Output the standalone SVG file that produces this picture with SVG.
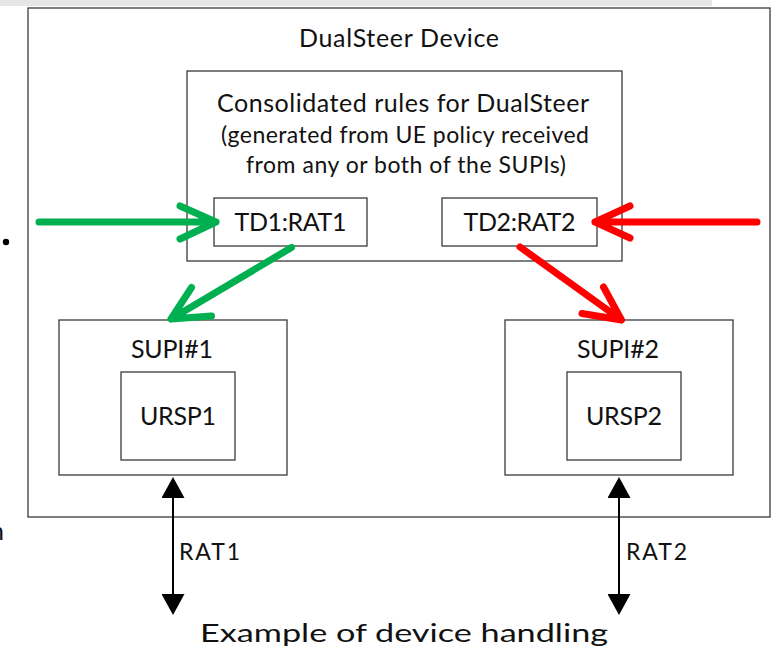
<svg xmlns="http://www.w3.org/2000/svg" width="780" height="650" viewBox="0 0 780 650">
<defs>
<style>
.box{fill:#fff;stroke:#3a3a3a;stroke-width:1.3}
.t{font-family:Lato,"Open Sans","Liberation Sans",sans-serif;fill:#111;font-size:25px}
.c{text-anchor:middle}
.sub{font-size:23px}
.g{fill:none;stroke:#00b050;stroke-width:7;stroke-linecap:round;stroke-linejoin:round}
.r{fill:none;stroke:#ff0000;stroke-width:7;stroke-linecap:round;stroke-linejoin:round}
.bi{stroke:#000;stroke-width:2;fill:none}
</style>
<marker id="tri" viewBox="0 0 21 23" refX="0" refY="11.5" markerWidth="21" markerHeight="23" markerUnits="userSpaceOnUse" orient="auto-start-reverse">
<path d="M0,0 L21,11.5 L0,23 Z" fill="#000"/>
</marker>
</defs>
<rect x="0" y="0" width="712" height="6" fill="#e6e6e6"/>
<circle cx="6" cy="242" r="3.2" fill="#000"/>
<text class="t" x="-10" y="540">n</text>

<g id="device">
<rect class="box" x="28" y="8" width="742" height="509"/>
<text class="t c" x="399" y="47" textLength="200">DualSteer Device</text>
</g>

<g id="consolidated">
<rect class="box" x="187" y="71" width="435" height="190"/>
<text class="t c" x="403" y="112" textLength="372">Consolidated rules for DualSteer</text>
<text class="t c sub" x="405" y="143" textLength="368">(generated from UE policy received</text>
<text class="t c sub" x="406" y="173" textLength="320">from any or both of the SUPIs)</text>
</g>

<g id="td1">
<rect class="box" x="214" y="198" width="153" height="48"/>
<text class="t c" x="290.5" y="231" textLength="112">TD1:RAT1</text>
</g>

<g id="td2">
<rect class="box" x="442" y="198" width="155" height="48"/>
<text class="t c" x="519.5" y="231" textLength="112">TD2:RAT2</text>
</g>

<g id="supi1">
<rect class="box" x="59" y="320" width="228" height="155"/>
<text class="t c" x="172" y="358" textLength="82">SUPI#1</text>
</g>

<g id="ursp1">
<rect class="box" x="121" y="372" width="114" height="88"/>
<text class="t c" x="178" y="425" textLength="76">URSP1</text>
</g>

<g id="supi2">
<rect class="box" x="505" y="320" width="228" height="155"/>
<text class="t c" x="618" y="358" textLength="82">SUPI#2</text>
</g>

<g id="ursp2">
<rect class="box" x="567" y="372" width="114" height="88"/>
<text class="t c" x="624" y="425" textLength="76">URSP2</text>
</g>

<g id="connectors">
<path class="g" d="M39,222 L216,222 M180,206 L216,222 L180,239"/>
<path class="r" d="M757,222 L595,222 M630,206 L595,222 L630,238"/>
<path class="g" d="M291.5,247.5 L171,319 M191.5,287.5 L171,319 L211.5,316"/>
<path class="r" d="M520,247 L621.5,320 M603.5,287 L621.5,320 L582,313.5"/>
<line class="bi" x1="173" y1="498" x2="173" y2="594" marker-start="url(#tri)" marker-end="url(#tri)"/>
<line class="bi" x1="619" y1="498" x2="619" y2="594" marker-start="url(#tri)" marker-end="url(#tri)"/>
<text class="t sub" x="179" y="560" textLength="61">RAT1</text>
<text class="t sub" x="626" y="560" textLength="61">RAT2</text>
</g>

<text class="t" x="200" y="642" font-size="30" textLength="408" lengthAdjust="spacingAndGlyphs">Example of device handling</text>
</svg>
